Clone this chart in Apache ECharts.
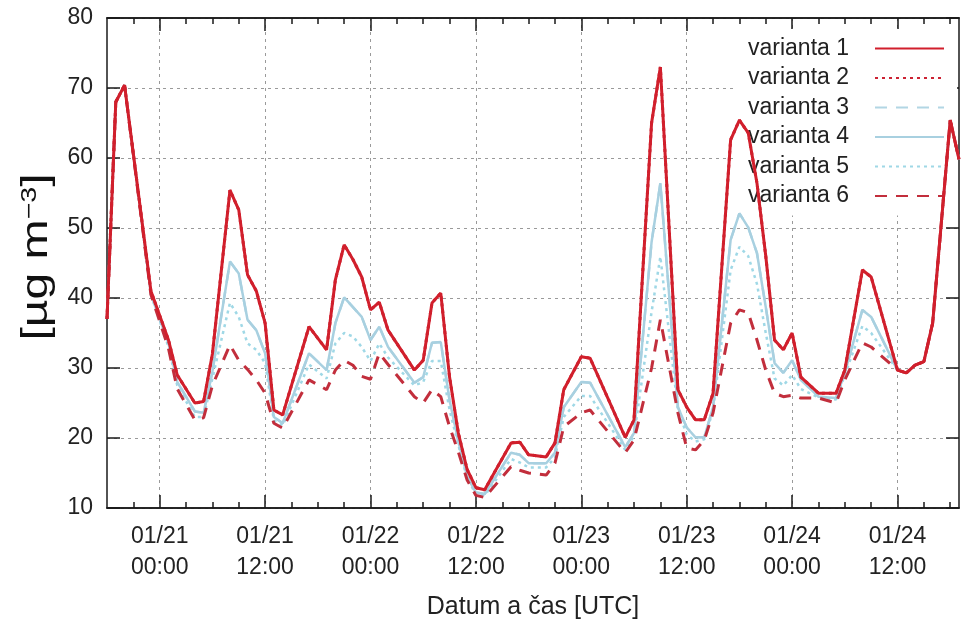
<!DOCTYPE html>
<html>
<head>
<meta charset="utf-8">
<script src="https://cdn.jsdelivr.net/npm/echarts@6/dist/echarts.min.js"></script>
<style>
  html, body { margin: 0; padding: 0; background: #fff; }
  #chart { width: 961px; height: 628px; }
</style>
</head>
<body>
<div id="chart"></div>
<script>
// hourly categories, 01/20 18:00 UTC ... 01/24 19:00 UTC
const startTime = Date.UTC(2013, 0, 20, 18)
const hourCount = 98

// hours (from 01/20 18:00) where the curves have a vertex
const hours = [0, 1, 2, 5, 7, 8, 10, 11, 12,
  14, 15, 16, 17, 18, 19, 20,
  23, 25, 26, 27, 28, 29, 30, 31, 32,
  35, 36, 37, 38, 39, 40, 41, 42, 43,
  46, 47, 48, 50, 51, 52, 54, 55,
  59, 60, 62, 63,
  65, 66, 67, 68, 69,
  71, 72, 73, 74, 75, 76, 77, 78, 79,
  81, 83, 84, 86, 87,
  90, 91, 92, 93, 94, 96, 97]

const v1Values = [37, 68, 70.4, 41, 34, 29, 25, 25.2, 32,
  55.4, 52.6, 43.3, 41, 36.4, 24, 23.3,
  35.9, 32.6, 42.6, 47.6, 45.5, 43, 38.3, 39.4, 35.4,
  29.7, 31.1, 39.3, 40.7, 28.7, 20.7, 15.5, 12.9, 12.6,
  19.3, 19.4, 17.6, 17.3, 19.3, 26.9, 31.6, 31.4,
  20.1, 22.6, 65, 73,
  26.9, 24.4, 22.6, 22.6, 26.4,
  62.6, 65.4, 63.6, 56.4, 46, 34, 32.6, 35, 28.7,
  26.4, 26.4, 29.7, 44, 43,
  29.7, 29.3, 30.4, 30.9, 36.4, 65.4, 59.8]

// varianta 2 lies under varianta 1 everywhere in the picture
const v2Values = v1Values

const v4Values = [37, 68, 70.4, 40.5, 33.5, 28, 23.8, 23.6, 29.5,
  45.2, 43.5, 36.9, 35.4, 32.1, 23, 22.1,
  32.1, 29.7, 36.4, 40.1, 38.7, 37.3, 34, 35.9, 33,
  27.9, 28.7, 33.6, 33.7, 25.4, 19.5, 14.5, 12.2, 12,
  17.9, 17.6, 16.4, 16.4, 17.9, 24.4, 28, 27.9,
  18.7, 20.7, 48, 56.4,
  24.4, 21.5, 20.1, 20.1, 24.4,
  48.3, 52.1, 50.1, 46.4, 38.7, 30.7, 29.3, 31.1, 28.3,
  25.9, 25.7, 29.3, 38.3, 37.3,
  29.7, 29.3, 30.4, 30.9, 36.4, 65.4, 59.8]

// varianta 3 lies under varianta 4
const v3Values = v4Values

const v5Values = [37, 68, 70.4, 40.5, 33, 27.5, 23, 23, 28.5,
  39.3, 37.3, 33.5, 32.6, 30.7, 22.5, 21.8,
  30.5, 28.5, 33.5, 35, 34.5, 33, 31, 33.5, 31.5,
  27.5, 28, 31, 31, 24, 19, 14.2, 12, 11.8,
  17, 16.5, 15.8, 15.8, 17.2, 23, 26, 26,
  18.3, 20.3, 38, 45.9,
  24, 20.5, 19.5, 19.8, 24,
  44, 47.3, 46, 42, 35, 28.5, 27.5, 29, 27,
  25.8, 25.5, 29, 36, 35,
  29.7, 29.3, 30.4, 30.9, 36.4, 65.4, 59.8]

const v6Values = [37, 68, 70.4, 40.5, 32.8, 27, 22.6, 22.9, 27.5,
  33.3, 31.1, 29.8, 28.3, 26.4, 22.1, 21.4,
  28.3, 26.9, 29.7, 31.1, 30.4, 28.8, 28.4, 32.1, 30.5,
  25.9, 25, 26.9, 25.9, 21.6, 18, 14, 11.8, 11.5,
  15.9, 15.4, 15, 14.7, 16.4, 21.6, 23.6, 24,
  17.9, 19.7, 30, 36.9,
  23.6, 18.6, 18.3, 19.7, 23.6,
  36.4, 38.3, 37.9, 34, 29.7, 26.4, 25.9, 26.1, 25.7,
  25.7, 25, 28.3, 33.6, 33,
  29.7, 29.3, 30.4, 30.9, 36.4, 65.4, 59.8]

const seriesNames = ['varianta 1', 'varianta 2', 'varianta 3', 'varianta 4', 'varianta 5', 'varianta 6']
const yTitle = '[µg m{sup|−3}]'

const pad = (n) => String(n).padStart(2, '0')
const categories = []
for (let i = 0; i < hourCount; i++) {
  const d = new Date(startTime + i * 3600 * 1000)
  categories.push(pad(d.getUTCMonth() + 1) + '/' + pad(d.getUTCDate()) + '\n' + pad(d.getUTCHours()) + ':00')
}

const isMajor = (i) => (i - 6) % 12 === 0 && i >= 6 && i < hourCount - 1
const isMinor = (i) => i % 3 === 0 && i > 0

const FONT = "'Liberation Sans', Arial, sans-serif"
const AXIS_COLOR = '#1a1a1a'
const GRID_LINE = { color: '#9a9a9a', width: 1, type: [3, 4] }

const chart = echarts.init(document.getElementById('chart'), null, { renderer: 'canvas' })

const toData = (values) => hours.map((h, i) => [h, values[i]])

const line = (name, values, color, width, type, z) => ({
  name,
  type: 'line',
  xAxisIndex: 0,
  yAxisIndex: 0,
  data: toData(values),
  symbol: 'none',
  z,
  animation: false,
  lineStyle: { color, width, type },
  itemStyle: { color },
})

// gnuplot-like frame: major + minor ticks on bottom and top, all pointing inward
const catAxis = (position, ticks, tickLen, extra) => Object.assign({
  type: 'category',
  position,
  data: categories,
  boundaryGap: false,
  axisLine: { show: true, onZero: false, lineStyle: { color: AXIS_COLOR, width: 1.5 } },
  axisTick: { show: true, inside: true, length: tickLen, interval: (i) => ticks(i), lineStyle: { color: AXIS_COLOR, width: 1.5 } },
  axisLabel: { show: false },
  splitLine: { show: false },
}, extra)

chart.setOption({
  animation: false,
  grid: { left: 107, right: 2, top: 18, bottom: 120, containLabel: false },
  legend: {
    orient: 'vertical',
    right: 4,
    top: 29,
    z: 1,
    align: 'right',
    backgroundColor: '#fff',
    padding: [8, 12, 8, 12],
    itemWidth: 69,
    itemHeight: 14,
    itemGap: 6.5,
    selectedMode: false,
    data: seriesNames,
    itemStyle: { opacity: 0 },
    textStyle: { fontFamily: FONT, fontSize: 23, color: '#222', lineHeight: 23, padding: [0, 21, 0, 0] },
  },
  graphic: [
    {
      type: 'text',
      x: 37,
      y: 257,
      rotation: Math.PI / 2,
      scaleX: 1.3,
      style: {
        text: yTitle,
        fontFamily: FONT,
        fontSize: 37,
        fill: '#111',
        align: 'center',
        verticalAlign: 'middle',
        rich: { sup: { fontFamily: FONT, fontSize: 22, fill: '#111', verticalAlign: 'top', padding: [0, 0, 14, 0] } },
      },
    },
  ],
  xAxis: [
    catAxis('bottom', isMajor, 13, {
      axisLabel: {
        show: true,
        interval: (i) => isMajor(i),
        fontFamily: FONT,
        fontSize: 23,
        lineHeight: 31,
        color: '#222',
        margin: 13,
      },
      splitLine: { show: true, interval: (i) => isMajor(i), lineStyle: GRID_LINE },
      name: 'Datum a čas [UTC]',
      nameLocation: 'middle',
      nameGap: 87,
      nameTextStyle: { fontFamily: FONT, fontSize: 25, color: '#222' },
    }),
    catAxis('bottom', isMinor, 6),
    catAxis('top', isMajor, 13),
    catAxis('top', isMinor, 6),
  ],
  yAxis: [
    {
      type: 'value',
      position: 'left',
      min: 10,
      max: 80,
      interval: 10,
      axisLine: { show: true, onZero: false, lineStyle: { color: AXIS_COLOR, width: 1.5 } },
      axisTick: { show: true, inside: true, length: 13, lineStyle: { color: AXIS_COLOR, width: 1.5 } },
      axisLabel: { fontFamily: FONT, fontSize: 23, color: '#222', margin: 14 },
      splitLine: { show: true, lineStyle: GRID_LINE },
    },
    {
      type: 'value',
      position: 'right',
      min: 10,
      max: 80,
      interval: 10,
      axisLine: { show: true, onZero: false, lineStyle: { color: AXIS_COLOR, width: 1.5 } },
      axisTick: { show: true, inside: true, length: 13, lineStyle: { color: AXIS_COLOR, width: 1.5 } },
      axisLabel: { show: false },
      splitLine: { show: false },
    },
  ],
  series: [
    line('varianta 1', v1Values, '#d11f2c', 3, 'solid', 10),
    line('varianta 2', v2Values, '#cc2233', 3, [3, 4], 9),
    line('varianta 3', v3Values, '#b2d6e4', 2.5, [12, 9], 6),
    line('varianta 4', v4Values, '#a8d0e0', 2.5, 'solid', 7),
    line('varianta 5', v5Values, '#9fd8e6', 2.5, [3, 4], 5),
    line('varianta 6', v6Values, '#c22e3c', 3, [12, 9], 8),
  ],
})
</script>
</body>
</html>
